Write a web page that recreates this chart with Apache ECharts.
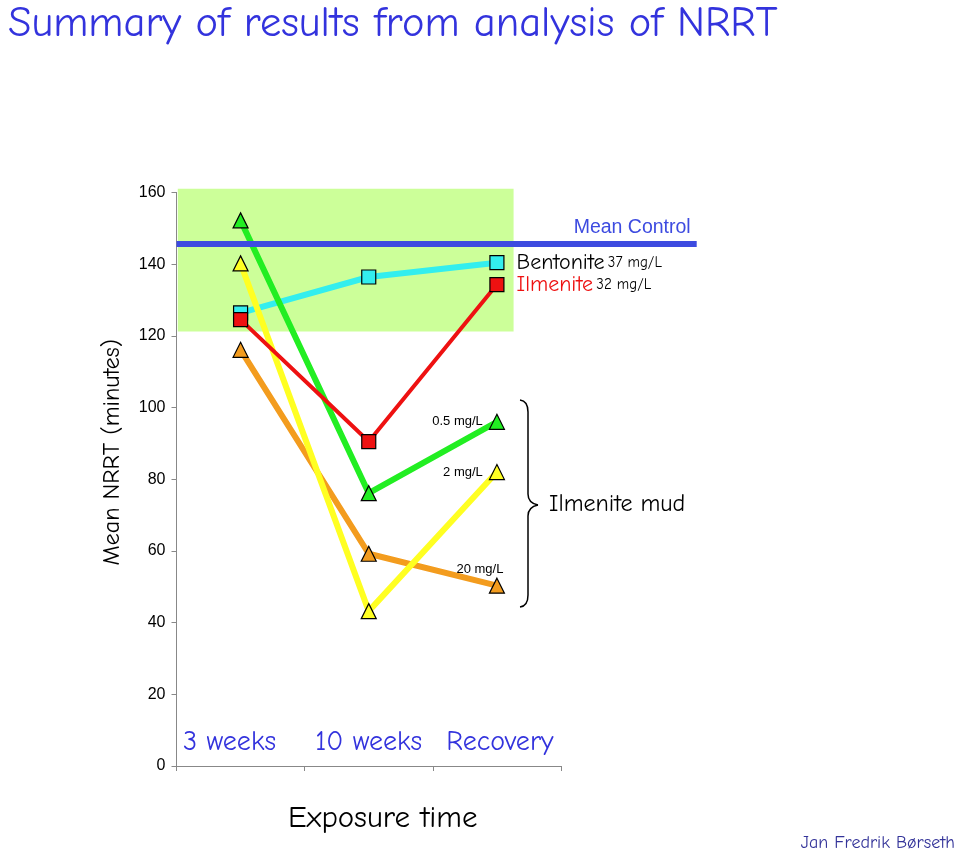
<!DOCTYPE html>
<html><head><meta charset="utf-8">
<script src="https://cdn.jsdelivr.net/npm/echarts@6/dist/echarts.min.js"></script>
<style>html,body{margin:0;padding:0;background:#fff}#c{width:960px;height:849px}</style>
</head><body><div id="c"></div>
<script>
// ---- data ----
const categories = ['3 weeks', '10 weeks', 'Recovery'];
const yMin = 0, yMax = 160, yInterval = 20;
const mud05 = [152.2, 76.1, 96.0];     // Ilmenite mud 0.5 mg/L
const mud2 = [140.2, 43.2, 82.0];      // Ilmenite mud 2 mg/L
const mud20 = [116.1, 59.2, 50.3];     // Ilmenite mud 20 mg/L
const bentonite37 = [126.4, 136.4, 140.4];
const ilmenite32 = [124.5, 90.5, 134.3];
const meanControl = 145.8;
const controlRange = [121.2, 161];     // shaded band (y range)
const controlBandX = [-0.49, 2.13];    // shaded band (category units)
const mudLabels = ['0.5 mg/L', '2 mg/L', '20 mg/L'];

// ---- layout ----
const comic = "'Comic Sans MS','Comic Neue','Open Sans',sans-serif";
const arial = "'Liberation Sans',Arial,sans-serif";
const L = 176.5, R = 561, T = 192.4, B = 766, W = 960, H = 849;
const pxPerUnit = (B - T) / (yMax - yMin);
const bandW = (R - L) / categories.length;
const wideRight = 696.7;

function lastLabel(values, label) {
  return values.map((v, i) => i === values.length - 1 ? { value: v, label: Object.assign({ show: true }, label) } : v);
}
function mkSeries(name, values, color, symbol, lineW, label) {
  return {
    name, type: 'line', xAxisIndex: 0, yAxisIndex: 0, z: 3,
    data: label ? lastLabel(values, label) : values,
    symbol, symbolSize: symbol === 'triangle' ? 15 : 14,
    itemStyle: { color, borderColor: '#000', borderWidth: 1.2 },
    lineStyle: { color, width: lineW },
    label: { show: false }
  };
}
const smallLbl = { fontFamily: arial, fontSize: 13, color: '#000' };
const braceStyle = { stroke: '#000', lineWidth: 1.5, fill: 'none' };

const chart = echarts.init(document.getElementById('c'), null, { renderer: 'canvas' });
const option = {
  animation: false,
  backgroundColor: '#fff',
  title: {
    text: 'Summary of results from analysis of NRRT', left: 3, top: -3,
    textStyle: { fontFamily: comic, fontSize: 42.5, fontWeight: 'normal', color: '#3333dd' }
  },
  grid: [
    { left: L, right: W - R, top: T, bottom: H - B },
    { left: L, width: wideRight - L, top: B - 161 * pxPerUnit, bottom: H - B }
  ],
  xAxis: [
    {
      type: 'category', gridIndex: 0, data: categories, boundaryGap: true,
      axisLine: { lineStyle: { color: '#888', width: 1 } },
      axisTick: { show: true, length: 5, interval: 0, lineStyle: { color: '#888' } },
      axisLabel: {
        inside: true, margin: 10, interval: 0, hideOverlap: false,
        fontFamily: comic, fontSize: 28, color: '#3333dd',
        formatter: (v, i) => i === 0 ? '{s|' + v + '}' : (i === 2 ? '{r|' + v + '}' : v),
        rich: {
          s: { fontFamily: comic, fontSize: 28, color: '#3333dd', padding: [0, 22, 0, 0] },
          r: { fontFamily: comic, fontSize: 28, color: '#3333dd', padding: [0, 0, 0, 6] }
        }
      },
      name: 'Exposure time', nameLocation: 'middle', nameGap: 37,
      nameTextStyle: { fontFamily: comic, fontSize: 31, color: '#000', padding: [0, 0, 0, 28] }
    },
    { type: 'value', gridIndex: 1, min: -0.5, max: -0.5 + (wideRight - L) / bandW, show: false }
  ],
  yAxis: [
    {
      type: 'value', gridIndex: 0, min: yMin, max: yMax, interval: yInterval,
      axisLine: { show: true, lineStyle: { color: '#888' } },
      axisTick: { show: true, length: 5, lineStyle: { color: '#888' } },
      splitLine: { show: false },
      axisLabel: { fontFamily: arial, fontSize: 16, color: '#000', margin: 11 },
      name: 'Mean NRRT (minutes)', nameLocation: 'middle', nameGap: 52,
      nameTextStyle: { fontFamily: comic, fontSize: 24, color: '#000', padding: [0, 0, 0, 54] }
    },
    { type: 'value', gridIndex: 1, min: 0, max: 161, show: false }
  ],
  series: [
    {
      type: 'line', xAxisIndex: 1, yAxisIndex: 1, data: [], z: 0, silent: true,
      markArea: {
        silent: true, itemStyle: { color: '#ccff99' },
        data: [[{ coord: [controlBandX[0], controlRange[0]] }, { coord: [controlBandX[1], controlRange[1]] }]]
      }
    },
    mkSeries('Bentonite 37 mg/L', bentonite37, '#33eeee', 'rect', 6, {
      position: 'right', distance: 12, formatter: '{a|Bentonite} {b|37 mg/L}',
      rich: { a: { fontFamily: comic, fontSize: 22, color: '#000' }, b: { fontFamily: comic, fontSize: 15, color: '#000' } }
    }),
    mkSeries(mudLabels[2], mud20, '#f39c1e', 'triangle', 6, Object.assign({ position: 'top', offset: [-17, 3], formatter: mudLabels[2] }, smallLbl)),
    mkSeries(mudLabels[1], mud2, '#ffff22', 'triangle', 6, Object.assign({ position: 'left', distance: 6, formatter: mudLabels[1] }, smallLbl)),
    mkSeries(mudLabels[0], mud05, '#22ee22', 'triangle', 6, Object.assign({ position: 'left', distance: 6, formatter: mudLabels[0] }, smallLbl)),
    mkSeries('Ilmenite 32 mg/L', ilmenite32, '#ee1111', 'rect', 4, {
      position: 'right', distance: 12, formatter: '{a|Ilmenite} {b|32 mg/L}',
      rich: { a: { fontFamily: comic, fontSize: 22, color: '#ee1111' }, b: { fontFamily: comic, fontSize: 15, color: '#000' } }
    }),
    {
      type: 'line', xAxisIndex: 1, yAxisIndex: 1, data: [], z: 4, silent: true,
      markLine: {
        silent: true, symbol: 'none', animation: false,
        lineStyle: { color: '#3d4be0', width: 6, type: 'solid' },
        label: {
          show: true, position: 'insideEndTop', distance: 6, formatter: 'Mean Control',
          fontFamily: arial, fontSize: 19.5, color: '#3d4be0', padding: [0, 0, 0, 0]
        },
        data: [{ yAxis: meanControl }]
      }
    }
  ],
  graphic: [
    { type: 'bezierCurve', silent: true, shape: { x1: 520, y1: 400, cpx1: 528, cpy1: 401, x2: 528, y2: 412 }, style: braceStyle },
    { type: 'line', silent: true, shape: { x1: 528, y1: 412, x2: 528, y2: 494 }, style: braceStyle },
    { type: 'bezierCurve', silent: true, shape: { x1: 528, y1: 494, cpx1: 528, cpy1: 503, x2: 538, y2: 505 }, style: braceStyle },
    { type: 'bezierCurve', silent: true, shape: { x1: 538, y1: 505, cpx1: 528, cpy1: 507, x2: 528, y2: 516 }, style: braceStyle },
    { type: 'line', silent: true, shape: { x1: 528, y1: 516, x2: 528, y2: 595 }, style: braceStyle },
    { type: 'bezierCurve', silent: true, shape: { x1: 528, y1: 595, cpx1: 528, cpy1: 606, x2: 520, y2: 607 }, style: braceStyle },
    {
      type: 'text', left: 549, top: 492, silent: true,
      style: { text: 'Ilmenite mud', fontFamily: comic, fontSize: 24, fill: '#000' }
    },
    {
      type: 'text', right: 5, top: 834, silent: true,
      style: { text: 'Jan Fredrik Børseth', fontFamily: comic, fontSize: 18, fill: '#333399' }
    }
  ]
};
chart.setOption(option);
</script>
</body></html>
